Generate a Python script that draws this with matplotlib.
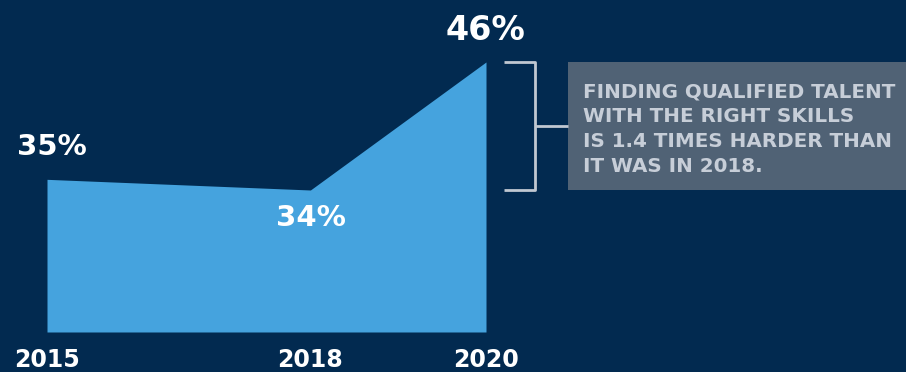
import matplotlib.pyplot as plt
import matplotlib.transforms as mtransforms

years = [2015, 2018, 2020]
values = [35, 34, 46]
value_labels = ["35%", "34%", "46%"]
note_lines = ["FINDING QUALIFIED TALENT", "WITH THE RIGHT SKILLS",
              "IS 1.4 TIMES HARDER THAN", "IT WAS IN 2018."]

bg = "#022a50"
area_c = "#45a3de"
box_c = "#506275"
note_c = "#c7ced8"

fig = plt.figure(figsize=(9.06, 3.72), dpi=100, facecolor=bg)
ax = fig.add_axes([0, 0, 1, 1])
ax.set_facecolor(bg)
ax.set_xlim(2014.4647, 2024.7836)
ax.set_ylim(16.94, 51.81)
ax.axis("off")

base = 20.69
ax.fill_between(years, values, base, color=area_c, linewidth=0)

# value labels
offsets = [(5, 24), (1, -36), (-1, 22)]
sizes = [21, 21, 24]
for x, v, lab, off, fs in zip(years, values, value_labels, offsets, sizes):
    ax.annotate(lab, (x, v), xytext=off, textcoords="offset pixels",
                ha="center", va="baseline", color="white",
                fontsize=fs, fontweight="bold", family="DejaVu Sans")

# year labels
xt = mtransforms.blended_transform_factory(ax.transData, ax.transAxes)
for x in years:
    ax.text(x, 5 / 372, str(x), transform=xt, ha="center", va="baseline",
            color="white", fontsize=17, fontweight="bold",
            family="DejaVu Sans")

# bracket spanning 2018 -> 2020 level
bt = mtransforms.blended_transform_factory(fig.transFigure, ax.transData)
x0, x1, x2 = 504 / 906, 535 / 906, 568 / 906
lo, hi = values[1], values[2]
mid = (lo + hi) / 2
line_kw = dict(color="#c0c8d2", lw=2, transform=bt, solid_capstyle="butt")
ax.plot([x0, x1, x1, x0], [hi, hi, lo, lo], **line_kw)
ax.plot([x1, x2], [mid, mid], **line_kw)

# note box
box = plt.Rectangle((x2, lo), 1 - x2, hi - lo, transform=bt,
                    facecolor=box_c, edgecolor="none")
ax.add_patch(box)
for i, line in enumerate(note_lines):
    fig.text(583 / 906, 1 - (97 + 25 * i) / 372, line, ha="left",
             va="baseline", color=note_c, fontsize=14.3, fontweight="bold",
             family="DejaVu Sans")

fig.savefig("out.png", dpi=100, facecolor=bg)
